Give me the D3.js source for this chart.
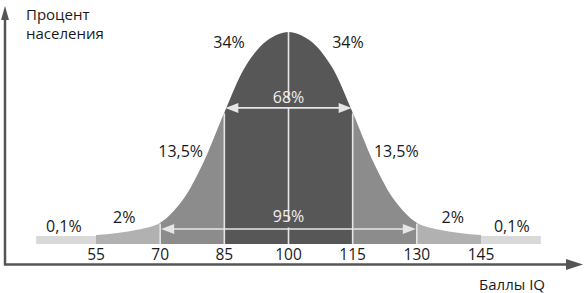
<!DOCTYPE html>
<html lang="ru">
<head>
<meta charset="UTF-8">
<title>Распределение IQ</title>
<script src="https://d3js.org/d3.v7.min.js"></script>
<style>
  html, body { margin: 0; padding: 0; background: #fff; }
  svg text { font-family: "Open Sans", "Noto Sans", sans-serif; fill: #1a1a1a; }
</style>
</head>
<body>
<div id="chart"></div>
<script>
// баллы IQ и относительная высота кривой (пик = 100)
const curveIQ      = [41, 50, 55, 60, 65, 70, 75, 80, 85, 90, 95, 100, 105, 110, 115, 120, 125, 130, 135, 140, 145, 150, 159];
const curveDensity = [3.8, 4, 4.2, 5.2, 6.8, 10, 20, 38, 62, 84, 96, 100, 96, 84, 62, 38, 20, 10, 6.8, 5.2, 4.2, 4, 3.8];

const tickLabels = [55, 70, 85, 100, 115, 130, 145];

// зоны: границы и доля населения
const zoneFrom   = [41, 55, 70, 85, 115, 130, 145];
const zoneTo     = [55, 70, 85, 115, 130, 145, 159];
const zoneColors = ["#d9d9d9", "#b1b1b1", "#8c8c8c", "#575757", "#8c8c8c", "#b1b1b1", "#d9d9d9"];
const bandLevel  = 3.8;

const pctLabels = ["0,1%", "2%", "13,5%", "34%", "34%", "13,5%", "2%", "0,1%"];

const width = 585, height = 293;

const svg = d3.select("#chart").append("svg")
  .attr("width", width)
  .attr("height", height);

const x = d3.scaleLinear().domain([55, 145]).range([96, 481]);
const y = d3.scaleLinear().domain([0, 100]).range([244, 32]);

const pts = curveIQ.map((v, i) => ({iq: v, d: curveDensity[i]}));
const dens = iq => curveDensity[curveIQ.indexOf(iq)];

const area = d3.area()
  .x(p => x(p.iq))
  .y0(y(0))
  .y1(p => y(p.d))
  .curve(d3.curveCatmullRom.alpha(0.5));

// зоны под кривой
const defs = svg.append("defs");
zoneFrom.forEach((a, i) => {
  defs.append("clipPath").attr("id", "z" + i)
    .append("rect")
    .attr("x", x(a)).attr("y", 0)
    .attr("width", x(zoneTo[i]) - x(a)).attr("height", height);
});

zoneFrom.forEach((a, i) => {
  const tail = i === 0 || i === zoneFrom.length - 1;
  if (tail) {
    svg.append("rect")
      .attr("x", x(a)).attr("y", y(bandLevel))
      .attr("width", x(zoneTo[i]) - x(a))
      .attr("height", y(0) - y(bandLevel))
      .attr("fill", zoneColors[i]);
  } else {
    svg.append("path")
      .attr("d", area(pts))
      .attr("clip-path", "url(#z" + i + ")")
      .attr("fill", zoneColors[i]);
  }
});

// белые вертикальные линии
const white = "#e6e6e6";
[70, 85, 115, 130].forEach(v => {
  svg.append("line")
    .attr("x1", x(v)).attr("x2", x(v))
    .attr("y1", y(0)).attr("y2", y(dens(v)) + 1)
    .attr("stroke", white).attr("stroke-width", 1.6);
});
// линия по центру с разрывами под подписи
[[100, 68], [64.2, 10.6], [7.8, 0]].forEach(([a, b]) => {
  svg.append("line")
    .attr("x1", x(100)).attr("x2", x(100))
    .attr("y1", y(Math.min(a, dens(100)))).attr("y2", y(b))
    .attr("stroke", white).attr("stroke-width", 1.6);
});

// стрелки 68% и 95%
function arrow(a, b, level) {
  const yy = y(level), x1 = x(a), x2 = x(b);
  svg.append("line")
    .attr("x1", x1 + 8).attr("x2", x2 - 8)
    .attr("y1", yy).attr("y2", yy)
    .attr("stroke", white).attr("stroke-width", 1.6);
  svg.append("path")
    .attr("d", `M${x1 + 1},${yy} l13,-5 l0,10 z M${x2 - 1},${yy} l-13,-5 l0,10 z`)
    .attr("fill", white);
}
arrow(85, 115, 64.2);
arrow(70, 130, 7.1);

svg.append("text")
  .attr("x", x(100)).attr("y", y(66.5))
  .attr("text-anchor", "middle")
  .style("font-size", "16px").style("fill", "#eeeeee")
  .text("68%");
svg.append("text")
  .attr("x", x(100)).attr("y", y(10.4))
  .attr("text-anchor", "middle")
  .style("font-size", "16px").style("fill", "#eeeeee")
  .text("95%");

// подписи долей: смещение от 100 и высота
const pctOffset = [-52.5, -38.4, -25.2, -13.9, 13.9, 25.2, 38.4, 52.2];
const pctLevel  = [5.7, 9.9, 41, 92.5, 92.5, 41, 9.9, 5.7];
svg.selectAll("text.pct")
  .data(pctLabels)
  .join("text")
  .attr("class", "pct")
  .attr("x", (d, i) => x(100 + pctOffset[i]))
  .attr("y", (d, i) => y(pctLevel[i]))
  .attr("text-anchor", "middle")
  .style("font-size", "16px")
  .text(d => d);

// подписи оси X
svg.selectAll("text.tick")
  .data(tickLabels)
  .join("text")
  .attr("class", "tick")
  .attr("x", d => x(d))
  .attr("y", 260)
  .attr("text-anchor", "middle")
  .style("font-size", "15.5px")
  .text(d => d);

// оси со стрелками
const axisColor = "#555";
svg.append("line")
  .attr("x1", 5).attr("x2", 5).attr("y1", 265).attr("y2", 18)
  .attr("stroke", axisColor).attr("stroke-width", 2.5);
svg.append("path")
  .attr("d", "M5,6 L9,20 L1,20 Z")
  .attr("fill", axisColor);
svg.append("line")
  .attr("x1", 4).attr("x2", 570).attr("y1", 264.5).attr("y2", 264.5)
  .attr("stroke", axisColor).attr("stroke-width", 2.5);
svg.append("path")
  .attr("d", "M583,264.5 L566,259 L566,270 Z")
  .attr("fill", axisColor);

svg.append("text")
  .attr("x", 26).attr("y", 20)
  .style("font-size", "15px")
  .text("Процент");
svg.append("text")
  .attr("x", 26).attr("y", 39)
  .style("font-size", "15px")
  .text("населения");

svg.append("text")
  .attr("x", 545).attr("y", 290)
  .attr("text-anchor", "end")
  .style("font-size", "15px")
  .text("Баллы IQ");
</script>
</body>
</html>
